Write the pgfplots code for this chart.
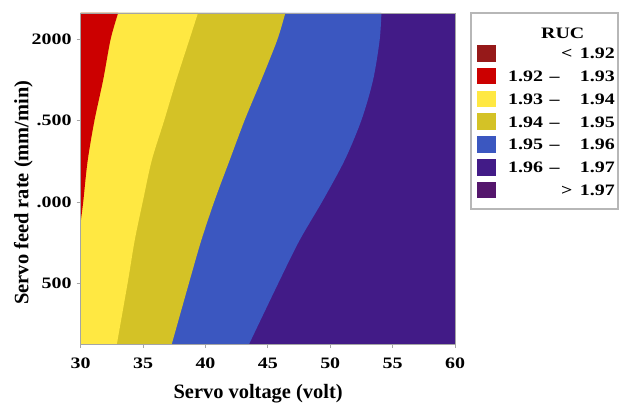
\documentclass[border=0pt]{standalone}
\usepackage{fontspec}
\setmainfont{Liberation Serif}
\newfontfamily\wide{Liberation Serif}[FakeStretch=1.25]
\usepackage{pgfplots}
\pgfplotsset{compat=1.18}
\usepgfplotslibrary{fillbetween}

\definecolor{rucA}{RGB}{150,25,25}   % < 1.92
\definecolor{rucB}{RGB}{204,0,0}     % 1.92 - 1.93
\definecolor{rucC}{RGB}{255,232,66}  % 1.93 - 1.94
\definecolor{rucD}{RGB}{212,194,38}  % 1.94 - 1.95
\definecolor{rucE}{RGB}{59,87,192}   % 1.95 - 1.96
\definecolor{rucF}{RGB}{66,27,135}   % 1.96 - 1.97
\definecolor{rucG}{RGB}{84,22,108}   % > 1.97
\definecolor{frame}{RGB}{165,165,165}

\begin{document}
\begin{tikzpicture}
\begin{axis}[
  scale only axis, width=374.3bp, height=331bp,
  xmin=30, xmax=60, ymin=130, ymax=2160,
  axis line style={draw=frame, line width=0.8bp},
  tick style={draw=frame, line width=0.8bp},
  tick align=outside, major tick length=4bp, tick pos=left,
  xtick={30,35,...,60},
  ytick={500,1000,1500,2000},
  yticklabels={500,.000,.500,2000},
  /pgf/number format/assume math mode=true,
  ticklabel style={font=\wide\bfseries\fontsize{16}{18}\selectfont, inner sep=0pt},
  xticklabel style={anchor=base, yshift=-20bp},
  yticklabel style={anchor=east, xshift=-5bp},
  xlabel={Servo voltage (volt)},
  label style={font=\bfseries\fontsize{20.5}{22}\selectfont, inner sep=0pt},
  xlabel style={at={(axis description cs:0.474,0)}, anchor=base, yshift=-54bp},
  axis on top,
  clip=true,
]
% region edges
\addplot[name path=L, draw=none] coordinates {(30,130) (30,2160)};
\addplot[name path=R, draw=none] coordinates {(60,130) (60,2160)};
% RUC = 1.93
\addplot[name path=B1, draw=none, smooth] coordinates {
  (30.0,880) (30.2,1000) (30.55,1250) (31.1,1500) (31.8,1750) (32.4,2000) (33.0,2160)};
% RUC = 1.94
\addplot[name path=B2, draw=none, smooth] coordinates {
  (32.9,130) (33.8,521) (34.33,767) (35.0,1012) (35.7,1258) (36.7,1503) (37.66,1748) (38.7,1994) (39.4,2160)};
% RUC = 1.95
\addplot[name path=B3, draw=none, smooth] coordinates {
  (37.3,130) (38.74,521) (39.67,767) (40.74,1012) (41.94,1258) (43.14,1503) (44.47,1748) (45.75,1994) (46.4,2160)};
% RUC = 1.96
\addplot[name path=B4, draw=none, smooth] coordinates {
  (43.5,130) (45.95,521) (47.55,767) (49.42,1012) (51.16,1258) (52.5,1503) (53.43,1748) (53.96,1994) (54.1,2160)};

\addplot[fill=rucF, draw=none] fill between[of=L and R];
\addplot[fill=rucE, draw=none] fill between[of=L and B4];
\addplot[fill=rucD, draw=none] fill between[of=L and B3];
\addplot[fill=rucC, draw=none] fill between[of=L and B2];
\addplot[fill=rucB, draw=none] fill between[of=L and B1];
\end{axis}

% y axis title
\node[rotate=90, anchor=base, inner sep=0pt, font=\bfseries\fontsize{20.5}{22}\selectfont]
  at (-52.4bp,151.5bp) {Servo feed rate (mm/min)};

% colour key
\draw[draw=frame!80, line width=2bp] (390.3bp,135bp) rectangle (537.3bp,331bp);
\node[font=\wide\bfseries\fontsize{16}{18}\selectfont] at (482bp,310.2bp) {RUC};
\foreach \c/\lo/\hi [count=\i from 0] in {
    rucA//{1.92}, rucB/{1.92}/{1.93}, rucC/{1.93}/{1.94}, rucD/{1.94}/{1.95},
    rucE/{1.95}/{1.96}, rucF/{1.96}/{1.97}, rucG//{1.97}} {
  \pgfmathsetmacro{\yy}{290.7-22.78*\i}
  \pgfmathsetmacro{\bl}{\yy-5.45}
  \fill[\c] (396bp,\yy bp-8.35bp) rectangle (415.3bp,\yy bp+8.35bp);
  \begingroup\wide\bfseries\fontsize{16}{18}\selectfont
  \node[anchor=base east, inner sep=0pt] at (534.3bp,\bl bp) {\hi};
  \ifnum\i=0
    \node[anchor=base, inner sep=0pt] at (486bp,\bl bp) {<};
  \else\ifnum\i=6
    \node[anchor=base, inner sep=0pt] at (486bp,\bl bp) {>};
  \else
    \node[anchor=base east, inner sep=0pt] at (462.6bp,\bl bp) {\lo};
    \node[anchor=base, inner sep=0pt] at (474bp,\bl bp) {\textendash};
  \fi\fi
  \endgroup
}

\pgfresetboundingbox
\path[use as bounding box] (-80.7bp,-59bp) rectangle (539.3bp,344bp);
\end{tikzpicture}
\end{document}
